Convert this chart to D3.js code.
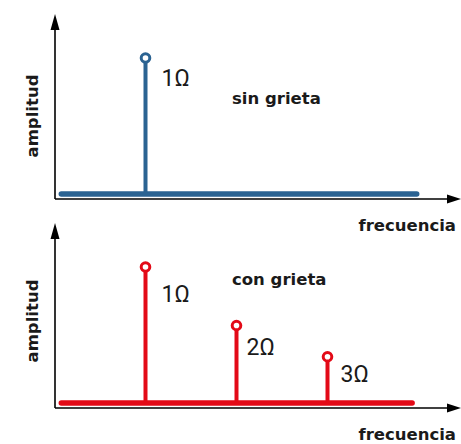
<!DOCTYPE html>
<html>
<head>
<meta charset="utf-8">
<script src="https://cdn.jsdelivr.net/npm/d3@7"></script>
<style>
  html, body { margin: 0; padding: 0; background: #fff; }
  svg { display: block; }
</style>
</head>
<body>
<svg id="chart" width="461" height="444"></svg>
<script>
// ---- data ----
const harmonics = [1, 2, 3];                 // multiples of Ω
const harmonicLabels = ["1Ω", "2Ω", "3Ω"];
const sinGrietaAmp = [1.0];                  // without crack: only 1Ω
const conGrietaAmp = [1.0, 0.57, 0.34];      // with crack: 1Ω, 2Ω, 3Ω
const panelTitles = ["sin grieta", "con grieta"];
const xAxisTitle = "frecuencia";
const yAxisTitle = "amplitud";
const baselineStart = [0.075, 0.075];        // extent of spectrum baseline (in Ω units)
const baselineEnd = [3.98, 3.93];

// ---- layout ----
const svg = d3.select("#chart");
const colors = ["#2b6392", "#e30a17"];
const x = d3.scaleLinear().domain([0, 1]).range([54.5, 145.5]);

const panels = [
  { amp: sinGrietaAmp, y0: 194, y1: 58, axisY: 199, axisTop: 14, color: colors[0],
    title: panelTitles[0], titleX: 232, titleY: 104, xTitleY: 231, yTitleCY: 116,
    labelDx: [16], labelDy: [28] },
  { amp: conGrietaAmp, y0: 403, y1: 267, axisY: 408, axisTop: 223, color: colors[1],
    title: panelTitles[1], titleX: 232, titleY: 285, xTitleY: 440, yTitleCY: 321,
    labelDx: [16, 10, 13], labelDy: [35, 30, 25] }
];

panels.forEach((p, pi) => {
  const g = svg.append("g");
  const y = d3.scaleLinear().domain([0, 1]).range([p.y0, p.y1]);

  // axes
  const axX = 55;
  g.append("line").attr("x1", axX).attr("x2", 448).attr("y1", p.axisY).attr("y2", p.axisY)
    .attr("stroke", "#000").attr("stroke-width", 1.6);
  g.append("path").attr("d", `M447,${p.axisY - 4.5} L461,${p.axisY} L447,${p.axisY + 4.5} Z`).attr("fill", "#000");
  g.append("line").attr("x1", axX).attr("x2", axX).attr("y1", p.axisY).attr("y2", p.axisTop + 12)
    .attr("stroke", "#000").attr("stroke-width", 1.6);
  g.append("path").attr("d", `M${axX - 4.5},${p.axisTop + 16} L${axX},${p.axisTop} L${axX + 4.5},${p.axisTop + 16} Z`).attr("fill", "#000");

  // baseline
  g.append("line")
    .attr("x1", x(baselineStart[pi])).attr("x2", x(baselineEnd[pi]))
    .attr("y1", y(0)).attr("y2", y(0))
    .attr("stroke", p.color).attr("stroke-width", 5.5).attr("stroke-linecap", "round");

  const data = p.amp.map((a, i) => ({ f: harmonics[i], a, label: harmonicLabels[i], i }));

  // stems
  g.selectAll(".stem").data(data).join("line")
    .attr("x1", d => x(d.f)).attr("x2", d => x(d.f))
    .attr("y1", y(0)).attr("y2", d => y(d.a))
    .attr("stroke", p.color).attr("stroke-width", 4);

  // markers
  g.selectAll(".mk").data(data).join("circle")
    .attr("cx", d => x(d.f)).attr("cy", d => y(d.a)).attr("r", 4.3)
    .attr("fill", "#fff").attr("stroke", p.color).attr("stroke-width", 3);

  // labels
  g.selectAll(".lbl").data(data).join("text")
    .attr("x", d => x(d.f) + p.labelDx[d.i]).attr("y", d => y(d.a) + p.labelDy[d.i])
    .attr("font-family", "Roboto, sans-serif").attr("font-weight", 400)
    .attr("font-size", 23).attr("fill", "#1a1a1a")
    .text(d => d.label);

  // panel title
  g.append("text").attr("x", p.titleX).attr("y", p.titleY)
    .attr("font-family", "'DejaVu Sans', sans-serif").attr("font-weight", "bold")
    .attr("font-size", 16.5).attr("fill", "#1a1a1a").text(p.title);

  // x axis title
  g.append("text").attr("x", 456).attr("y", p.xTitleY).attr("text-anchor", "end")
    .attr("font-family", "'DejaVu Sans', sans-serif").attr("font-weight", "bold")
    .attr("font-size", 16.5).attr("fill", "#1a1a1a").text(xAxisTitle);

  // y axis title
  g.append("text").attr("transform", `translate(38,${p.yTitleCY}) rotate(-90)`)
    .attr("text-anchor", "middle")
    .attr("font-family", "'DejaVu Sans', sans-serif").attr("font-weight", "bold")
    .attr("font-size", 16.5).attr("fill", "#1a1a1a").text(yAxisTitle);
});
</script>
</body>
</html>
